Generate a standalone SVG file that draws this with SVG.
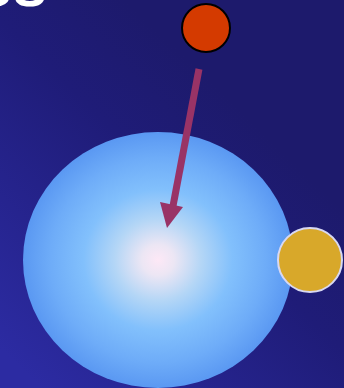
<svg xmlns="http://www.w3.org/2000/svg" width="344" height="388" viewBox="0 0 344 388">
<defs>
<linearGradient id="bg" x1="0" y1="0.9" x2="0.6" y2="0.2">
<stop offset="0" stop-color="#2c2ba2"/>
<stop offset="0.7" stop-color="#1f1c78"/>
<stop offset="1" stop-color="#1d1a6c"/>
</linearGradient>
<radialGradient id="sphere" cx="0.5" cy="0.5" r="0.5">
<stop offset="0" stop-color="#fde8f6"/>
<stop offset="0.12" stop-color="#ece6f4"/>
<stop offset="0.32" stop-color="#b4d6f6"/>
<stop offset="0.55" stop-color="#82c0fc"/>
<stop offset="0.8" stop-color="#6eacf8"/>
<stop offset="1" stop-color="#5a98f2"/>
</radialGradient>
<style>
.title{font-family:"Liberation Sans",Arial,sans-serif;font-weight:bold;font-size:62px;fill:#ffffff}
.conn{stroke:#993366;stroke-width:7;fill:none}
.head{fill:#993366}
</style>
</defs>
<rect width="344" height="388" fill="url(#bg)"/>
<text class="title" x="-22" y="6">es</text>
<g id="nucleus">
<ellipse cx="158" cy="260" rx="135" ry="128" fill="url(#sphere)"/>
</g>
<g id="yellow">
<circle cx="310" cy="260" r="32" fill="#d8a82a" stroke="#d8d8f2" stroke-width="2"/>
</g>
<g id="orange">
<circle cx="206" cy="28" r="24" fill="#d43a00" stroke="#000" stroke-width="2"/>
</g>
<g id="connectors">
<line class="conn" x1="199" y1="69" x2="173" y2="206"/>
<polygon class="head" points="160,202 183,207 167,228"/>
</g>
</svg>
